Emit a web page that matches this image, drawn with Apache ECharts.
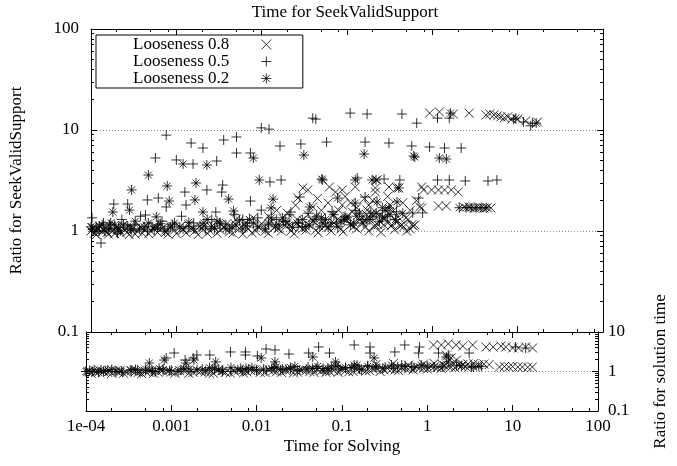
<!DOCTYPE html>
<html>
<head>
<meta charset="utf-8">
<script src="https://cdn.jsdelivr.net/npm/echarts@6.0.0/dist/echarts.min.js"></script>
<style>
html, body { margin: 0; padding: 0; background: #fff; }
#chart { width: 677px; height: 466px; }
</style>
</head>
<body>
<div id="chart"></div>
<script>
// tick labels
var xTicks = [1e-4, 1e-3, 0.01, 0.1, 1, 10, 100];
var xTickLabels = ['1e-04', '0.001', '0.01', '0.1', '1', '10', '100'];
var yTopTicks = [0.1, 1, 10, 100];
var yTopTickLabels = ['0.1', '1', '10', '100'];
var yBotTicks = [0.1, 1, 10];
var yBotTickLabels = ['0.1', '1', '10'];

// Looseness 0.8, ratio for SeekValidSupport (top panel)
var loose08Top = [
  [0.93,14.7],[1.21,15.1],[1.76,14.4],[2.7,14.7],[4.26,14.1],[4.7,14.4],[5.27,14.1],[5.8,13.8],[6.35,13.5],[7.0,13.2],[7.66,13.5],[8.5,12.8],[10.0,12.8],[12.4,12.3],[17.1,12.0],
  [0.0266,2.12],[0.0304,2.67],[0.0347,2.55],[0.0397,1.73],[0.0622,2.73],[0.0675,1.44],[0.0733,2.43],[0.088,2.55],[0.088,1.81],[0.1,1.28],[0.115,1.54],[0.125,2.73],[0.149,1.35],[0.172,1.61],[0.213,1.15],[0.215,2.67],[0.215,2.43],[0.225,3.2],[0.24,1.44],[0.27,1.15],[0.31,2.73],[0.319,1.81],[0.336,1.15],[0.385,2.67],[0.385,1.23],[0.405,2.67],[0.44,1.15],[0.49,1.35],[0.574,1.15],[0.622,1.15],[0.711,1.73],[0.75,2.73],[0.75,1.69],[0.79,2.55],[0.98,2.55],[1.18,2.55],[1.18,1.77],[1.39,2.55],[1.46,1.77],[1.67,2.55],[2.01,2.43],[2.36,1.73],[2.7,1.72],[3.09,1.69],[3.5,1.7],[4.03,1.69],[4.4,1.7],[4.86,1.69],
  [0.02,1.5],[0.025,1.8],[0.035,1.45],[0.045,2.1],[0.05,1.6],[0.06,1.9],[0.08,1.6],[0.095,2.2],[0.11,1.9],[0.13,1.7],[0.16,2.1],[0.18,1.8],[0.2,2.0],[0.26,1.7],[0.3,2.2],[0.35,1.6],[0.45,1.9],[0.55,1.6],[0.65,2.0],[0.28,1.35],[0.17,1.45],[0.012,1.4],[0.015,1.6],[0.008,1.35],[0.005,1.3],
  [1.0e-4,1.0],[1.1e-4,0.95],[1.2e-4,1.05],[1.35e-4,0.98],[1.5e-4,1.08],[1.6e-4,0.93],[1.8e-4,1.0],[2.0e-4,1.1],[2.2e-4,0.96],[2.5e-4,1.02],[2.8e-4,0.92],[3.1e-4,1.06],[3.5e-4,1.0],[4.0e-4,0.95],[4.5e-4,1.12],[5.0e-4,1.0],[6.0e-4,0.97],[7.0e-4,1.08],[8.0e-4,0.93],[9.5e-4,1.02],[1.1e-3,1.1],[1.3e-3,0.96],[1.5e-3,1.04],[1.8e-3,0.92],[2.1e-3,1.12],[2.5e-3,1.0],[3.0e-3,0.95],[3.6e-3,1.08],[4.2e-3,0.98],[5.0e-3,1.15],[6.0e-3,0.93],[7.0e-3,1.05],[8.5e-3,1.0],[0.01,1.18],[0.012,0.95],[0.014,1.08],[0.017,1.0],[0.02,1.2],[0.024,0.94],[0.028,1.1],[0.033,1.02],[0.04,1.25],[0.046,0.96],[0.055,1.12],[0.065,1.0],[0.078,1.3],[0.09,0.98],[0.11,1.15],[0.13,1.05],[0.15,1.22],[0.18,1.0],[0.21,1.1],[0.25,0.97],[0.3,1.2],[0.36,1.03],[0.42,1.12],[0.5,1.0],[0.55,1.05],
  [1.05e-4,1.08],[1.15e-4,0.92],[1.25e-4,1.12],[1.4e-4,1.03],[1.55e-4,0.97],[1.7e-4,1.1],[1.9e-4,0.94],[2.1e-4,1.03],[2.35e-4,1.13],[2.65e-4,0.97],[2.95e-4,1.08],[3.3e-4,0.93],[3.75e-4,1.1],[4.25e-4,1.02],[4.75e-4,0.94],[5.5e-4,1.1],[6.5e-4,1.03],[7.5e-4,0.97],[8.8e-4,1.12],[1.0e-3,0.94],[1.2e-3,1.03],[1.4e-3,1.15],[1.65e-3,1.0],[1.95e-3,1.06],[2.3e-3,0.95],[2.75e-3,1.1],[3.3e-3,1.02],[3.9e-3,1.18],[4.6e-3,0.95],[5.5e-3,1.06],[6.5e-3,1.2],[7.7e-3,0.96],[9.2e-3,1.1],[0.011,1.0],[0.013,1.25],[0.0155,1.05],[0.0185,1.15],[0.022,1.0],[0.026,1.3],[0.03,1.05],[0.036,1.15],[0.043,1.02],[0.05,1.35],[0.06,1.08],[0.07,1.2],[0.085,1.05],[0.1,1.4],[0.12,1.1],[0.14,1.3],[0.165,1.1],[0.195,1.5],[0.23,1.15],[0.27,1.35],[0.33,1.12],[0.39,1.4],[0.46,1.1],[0.52,1.3],[0.6,1.12]
];

// Looseness 0.5, top panel
var loose05Top = [
  [1.03e-4,1.35],[1.31e-4,0.76],[1.85e-4,1.85],[2.69e-4,1.85],[4.35e-4,1.44],[4.58e-4,2.03],[6.15e-4,2.12],[5.68e-4,5.28],[7.62e-4,8.9],[7.62e-4,1.73],[1.0e-3,5.05],[1.26e-3,2.43],[1.3e-3,1.81],[1.49e-3,7.43],[1.57e-3,4.61],[2.05e-3,6.63],[2.28e-3,2.55],[2.9e-3,1.54],[2.97e-3,4.93],[3.4e-3,2.43],[3.49e-3,2.85],[3.59e-3,7.96],[5.07e-3,8.53],[5.07e-3,5.92],[7.38e-3,5.92],[7.38e-3,1.98],[9.9e-3,10.5],[9.9e-3,1.61],[0.0122,10.2],[0.0125,3.06],[0.0164,6.95],[0.0169,3.2],[0.022,1.54],[0.028,2.17],[0.0288,7.27],[0.0397,13.1],[0.043,12.8],[0.0577,7.6],[0.109,14.7],[0.132,3.35],[0.163,7.6],[0.163,2.17],[0.172,14.4],[0.272,3.27],[0.31,7.43],[0.416,3.2],[0.44,14.4],[0.574,6.95],[0.589,1.51],[0.656,11.7],[0.692,2.12],[0.77,1.51],[0.928,6.79],[1.15,13.1],[1.15,3.2],[1.39,6.63],[1.58,13.1],[1.58,3.2],[2.18,6.63],[2.43,3.13],[4.49,3.13],[5.71,3.2],[8.99,12.8],[11.7,12.0],[14.2,11.0],[14.9,11.7],
  [1.15e-4,1.1],[1.4e-4,1.2],[1.9e-4,1.05],[2.3e-4,1.3],[3.2e-4,1.15],[3.8e-4,1.4],[5.2e-4,1.1],[6.8e-4,1.25],[9e-4,1.15],[1.15e-3,1.4],[1.6e-3,1.2],[2.6e-3,1.3],[3.8e-3,1.15],[4.8e-3,1.45],[6.8e-3,1.2],[9e-3,1.35],[0.015,1.3],[0.021,1.45],[0.027,1.2],[0.035,1.5],[0.05,1.35],[0.067,1.55],[0.095,1.4],[0.125,1.6],[0.19,1.5],[0.26,1.7],[0.38,1.55],
  [1.25e-4,1.0],[1.65e-4,1.15],[2.05e-4,0.95],[2.9e-4,1.05],[4.6e-4,1.0],[6.1e-4,1.15],[8e-4,1.05],[1.4e-3,1.1],[2.2e-3,1.05],[3.2e-3,1.2],[4.2e-3,1.05],[6e-3,1.3],[0.012,1.15],[0.018,1.25],[0.03,1.1],[0.042,1.3],[0.075,1.2],[0.15,1.3],[0.3,1.4]
];

// Looseness 0.2, top panel
var loose02Top = [
  [1.2e-3,4.61],[2.28e-3,4.5],[4.71e-4,3.58],[2.99e-4,2.55],[7.82e-4,2.79],[1.7e-3,2.99],[8.25e-4,1.98],[1.65e-3,2.03],[1.8e-4,1.54],[2.83e-4,1.61],[5.83e-4,1.38],[2.05e-3,1.54],[8.0e-3,5.28],[0.0312,5.65],[9.38e-3,3.2],[4.1e-3,2.07],[0.0136,2.07],[0.0505,3.27],[0.0366,1.73],[4.68e-3,1.58],[0.0129,1.69],[0.159,5.78],[0.605,5.53],[0.622,5.4],[1.21,5.28],[1.46,5.16],[0.0518,3.2],[0.125,3.2],[0.197,3.2],[0.219,3.2],[0.405,2.67],[0.0774,2.12],[0.225,1.94],[0.385,1.94],[0.125,1.89],[0.31,1.69],[1.63,14.7],[9.5,13.1],[16.5,11.7],
  [2.07,1.7],[2.49,1.7],[2.85,1.7],[3.26,1.7],[3.72,1.7],[4.26,1.7],
  [1.05e-4,1.05],[1.25e-4,1.12],[1.45e-4,1.0],[1.7e-4,1.2],[2.1e-4,1.08],[2.4e-4,1.15],[3.0e-4,1.02],[3.3e-4,1.25],[4.2e-4,1.1],[5.5e-4,1.04],[6.5e-4,1.18],[8.5e-4,1.1],[1.2e-3,1.05],[1.4e-3,1.22],[1.9e-3,1.12],[2.3e-3,1.3],[2.8e-3,1.06],[3.3e-3,1.18],[4.5e-3,1.1],[5.5e-3,1.28],[6.5e-3,1.12],[8e-3,1.2],[0.011,1.05],[0.013,1.35],[0.016,1.15],[0.019,1.25],[0.023,1.08],[0.03,1.3],[0.036,1.15],[0.044,1.4],[0.052,1.2],[0.06,1.1],[0.07,1.45],[0.085,1.25],[0.1,1.35],[0.12,1.2],[0.14,1.5],[0.17,1.3],[0.2,1.4],[0.24,1.25],[0.28,1.6],
  [1.0e-4,1.1],[1.15e-4,1.0],[1.35e-4,1.15],[1.6e-4,1.05],[1.9e-4,1.15],[2.2e-4,1.0],[2.7e-4,1.12],[3.7e-4,1.05],[4.7e-4,1.2],[6e-4,1.08],[7.3e-4,1.0],[9.5e-4,1.2],[1.1e-3,1.1],[1.6e-3,1.05],[2.1e-3,1.2],[2.55e-3,1.1],[3.0e-3,1.25],[3.8e-3,1.05],[5e-3,1.15],[6e-3,1.05],[7.2e-3,1.3],[9e-3,1.1],[0.012,1.2],[0.0145,1.1],[0.0175,1.35],[0.021,1.15],[0.026,1.2],[0.033,1.1],[0.04,1.25],[0.048,1.1],[0.056,1.3],[0.065,1.2],[0.078,1.1],[0.092,1.3],[0.11,1.15],[0.13,1.4],[0.155,1.2],[0.185,1.3],[0.22,1.5],[0.26,1.35],[0.32,1.45],[0.37,1.3],[0.45,1.5]
];

// ratio for solution time (bottom panel)
var loose08Bot = [
  [1.18,4.7],[1.46,4.7],[1.76,5.0],[2.18,4.7],[2.6,4.4],[3.4,4.7],[4.86,4.17],[5.9,4.17],[7.3,4.4],[8.3,4.17],[10,3.94],[11.7,3.94],[14.2,4.17],[17.1,3.94],
  [1.67,2.6],[1.9,2.2],[2.2,1.95],
  [0.25,1.5],[0.4,1.6],[0.6,1.45],[0.9,1.55],[1.2,1.6],[1.5,1.5],[2.0,1.65],[2.6,1.5],[3.0,1.55],[3.5,1.6],[4.0,1.5],[4.6,1.55],[5.3,1.5],
  [7.0,1.3],[8.0,1.33],[9.0,1.3],[10,1.33],[11.5,1.3],[13,1.3],[15,1.28],[17,1.3],
  [1.3e-4,0.95],[1.6e-4,1.0],[2e-4,0.9],[2.5e-4,1.05],[3e-4,0.95],[3.8e-4,1.0],[4.5e-4,0.88],[5.5e-4,1.05],[7e-4,0.95],[9e-4,1.02],[1.1e-3,0.9],[1.4e-3,1.05],[1.8e-3,0.95],[2.2e-3,1.0],[2.8e-3,0.9],[3.5e-3,1.08],[4.3e-3,0.95],[5.5e-3,1.02],[7e-3,0.92],[8.5e-3,1.05],[0.011,0.95],[0.014,1.1],[0.017,0.98],[0.022,1.05],[0.027,0.92],[0.034,1.1],[0.042,1.0],[0.052,1.12],[0.065,0.95],[0.08,1.05],[0.1,1.15],[0.12,0.98],[0.15,1.1],[0.19,1.02],[0.23,1.15],[0.28,1.0],[0.34,1.2],[0.42,1.1],[0.5,1.25],[0.6,1.15],[0.75,1.3],[0.9,1.2],[1.1,1.35],[1.3,1.25],[1.6,1.4],[1.9,1.3],[2.3,1.45],[2.8,1.35],
  [1.05e-4,1.0],[1.15e-4,0.9],[1.45e-4,1.05],[1.8e-4,0.95],[2.25e-4,1.05],[2.75e-4,0.9],[3.4e-4,1.05],[4.1e-4,0.95],[5e-4,1.0],[6.2e-4,0.9],[7.8e-4,1.05],[1.0e-3,0.97],[1.25e-3,1.05],[1.6e-3,0.9],[2.0e-3,1.05],[2.5e-3,0.97],[3.1e-3,0.9],[3.9e-3,1.03],[4.9e-3,0.92],[6.2e-3,1.08],[7.7e-3,0.97],[9.5e-3,1.08],[0.0125,0.95],[0.0155,1.05],[0.0195,0.95],[0.0245,1.1],[0.03,0.97],[0.038,1.05],[0.047,0.95],[0.058,1.08],[0.072,1.0],[0.09,0.95],[0.11,1.05],[0.135,1.0],[0.17,1.15],[0.21,1.05],[0.25,1.2],[0.31,1.1],[0.38,1.15],[0.46,1.05],[0.55,1.2],[0.68,1.1],[0.82,1.25],[1.0,1.15],[1.2,1.3],[1.45,1.2],[1.75,1.35],[2.1,1.25],[2.5,1.35],[3.1,1.3]
];

var loose05Bot = [
  [1e-4,1.0],[1.08e-3,2.94],[1.99e-3,2.62],[2.82e-3,2.62],[4.94e-3,3.12],[7.38e-3,3.12],[7.38e-3,2.62],[0.0102,2.47],[0.0129,3.72],[0.0164,3.5],[0.0239,2.77],[0.0407,2.94],[0.0532,4.17],[0.0714,2.94],[0.139,4.7],[0.213,4.17],[0.213,2.94],[0.416,3.12],[0.544,4.7],[0.81,4.17],[0.79,2.94],[1.35,2.94],[1.76,2.62],[3.09,2.94],[8.7e-4,2.2],[1.45e-3,1.95],[1.8e-3,2.2],[10.8,4.17],[14.2,3.94],
  [1.2e-4,1.0],[1.7e-4,1.05],[2.7e-4,0.95],[4e-4,1.1],[6e-4,1.0],[1e-3,1.08],[1.7e-3,1.0],[3e-3,1.1],[5e-3,1.0],[8e-3,1.12],[0.013,1.05],[0.02,1.15],[0.03,1.05],[0.05,1.2],[0.07,1.1],[0.11,1.25],[0.16,1.15],[0.25,1.3],[0.4,1.2],[0.65,1.35],[1.2,1.3],[2.2,1.4],[3.3,1.3],[4.3,1.35],
  [1.5e-4,1.1],[2.2e-4,1.0],[3.4e-4,1.1],[5e-4,1.05],[8e-4,1.15],[1.3e-3,1.1],[2.3e-3,1.15],[4e-3,1.1],[6.5e-3,1.2],[0.01,1.1],[0.016,1.25],[0.025,1.15],[0.04,1.3],[0.06,1.2],[0.09,1.35],[0.14,1.3],[0.2,1.4],[0.32,1.3],[0.5,1.45]
];

var loose02Bot = [
  [5.53e-4,1.64],[8.25e-4,1.95],[1.49e-3,1.64],[1.84e-3,1.95],[3.31e-3,1.75],[0.0113,2.2],[0.0164,1.75],[0.0454,2.33],[0.084,1.75],[0.139,1.46],[0.238,2.2],[1.67,2.33],[1.76,1.75],
  [1.1e-4,1.05],[1.4e-4,0.95],[1.8e-4,1.1],[2.3e-4,1.0],[3.3e-4,1.08],[4.3e-4,0.95],[5e-4,1.15],[6.5e-4,1.0],[8e-4,1.1],[1.2e-3,1.0],[1.6e-3,1.15],[2.5e-3,1.05],[3.2e-3,1.2],[4e-3,1.0],[6e-3,1.1],[7.5e-3,1.2],[0.01,1.05],[0.015,1.2],[0.019,1.1],[0.025,1.25],[0.032,1.1],[0.045,1.2],[0.06,1.05],[0.075,1.3],[0.095,1.15],[0.13,1.25],[0.17,1.1],[0.2,1.35],[0.3,1.2],[0.45,1.3],[0.7,1.25],[1.0,1.35],[1.5,1.3],[2.5,1.4],[3.5,1.3],[4,1.35],
  [1.0e-4,1.0],[1.25e-4,1.1],[1.6e-4,1.0],[2.0e-4,1.12],[2.6e-4,1.02],[3.8e-4,1.12],[5.8e-4,1.05],[7.2e-4,1.2],[9.5e-4,1.05],[1.4e-3,1.2],[2.0e-3,1.1],[2.8e-3,1.25],[3.6e-3,1.1],[5e-3,1.25],[6.8e-3,1.05],[8.8e-3,1.25],[0.012,1.15],[0.017,1.3],[0.022,1.15],[0.028,1.35],[0.038,1.15],[0.052,1.35],[0.068,1.2],[0.085,1.4],[0.11,1.25],[0.15,1.45],[0.25,1.3],[0.38,1.45],[0.55,1.35],[0.85,1.45]
];

var font = "'Liberation Serif', 'Times New Roman', serif";
var crossSym = 'path://M0,0L10,10M0,10L10,0';
var plusSym = 'path://M5,0L5,10M0,5L10,5';
var starSym = 'path://M5,0L5,10M0,5L10,5M1.5,1.5L8.5,8.5M1.5,8.5L8.5,1.5';

var decadeMinor = function (lo, hi, mults) {
  var out = [];
  for (var d = lo; d < hi; d *= 10) {
    mults.forEach(function (m) { out.push(d * m); });
  }
  return out;
};
var xMinor = decadeMinor(1e-4, 100, [2, 5, 8]);
var yTopMinor = decadeMinor(0.1, 100, [2, 3, 4, 5, 6, 7, 8, 9]);
var yBotMinor = decadeMinor(0.1, 10, [2, 3, 4, 5, 6, 7, 8, 9]);

function lookup(ticks, labels) {
  return function (v) {
    for (var i = 0; i < ticks.length; i++) {
      if (Math.abs(Math.log10(v) - Math.log10(ticks[i])) < 0.01) return labels[i];
    }
    return '';
  };
}

function axis(o) {
  var a = {
    type: 'log', logBase: 10, gridIndex: o.grid, position: o.pos,
    min: o.min, max: o.max, silent: true,
    axisLine: { show: !!o.line, lineStyle: { color: '#000', width: 1 } },
    axisTick: { show: true, inside: true, length: o.len, customValues: o.ticks, lineStyle: { color: '#000', width: 1 } },
    axisLabel: { show: false },
    splitLine: { show: false }
  };
  if (o.labels) {
    a.axisLabel = { show: true, customValues: o.ticks, formatter: lookup(o.ticks, o.labels),
      color: '#000', fontFamily: font, fontSize: 17, margin: o.margin };
  }
  if (o.name) {
    a.name = o.name; a.nameLocation = 'middle'; a.nameGap = o.nameGap;
    if (o.nameRotate != null) a.nameRotate = o.nameRotate;
    a.nameTextStyle = { color: '#000', fontFamily: font, fontSize: 17 };
  }
  if (o.split) {
    a.axisTick = { show: false, customValues: o.ticks };
    a.splitLine = { show: true, lineStyle: { color: '#888', type: [1, 2], width: 1 } };
  }
  return a;
}

var xAxes = [
  axis({ grid: 0, pos: 'bottom', min: 1e-4, max: 100, line: true, len: 6, ticks: xTicks }),
  axis({ grid: 0, pos: 'bottom', min: 1e-4, max: 100, len: 3, ticks: xMinor }),
  axis({ grid: 0, pos: 'top', min: 1e-4, max: 100, line: true, len: 6, ticks: xTicks }),
  axis({ grid: 0, pos: 'top', min: 1e-4, max: 100, len: 3, ticks: xMinor }),
  axis({ grid: 1, pos: 'bottom', min: 1e-4, max: 100, line: true, len: 6, ticks: xTicks,
         labels: xTickLabels, margin: 7, name: 'Time for Solving', nameGap: 27 }),
  axis({ grid: 1, pos: 'bottom', min: 1e-4, max: 100, len: 3, ticks: xMinor }),
  axis({ grid: 1, pos: 'top', min: 1e-4, max: 100, line: true, len: 6, ticks: xTicks }),
  axis({ grid: 1, pos: 'top', min: 1e-4, max: 100, len: 3, ticks: xMinor })
];

var yAxes = [
  axis({ grid: 0, pos: 'left', min: 0.1, max: 100, line: true, len: 6, ticks: yTopTicks,
         labels: yTopTickLabels, margin: 12, name: 'Ratio for SeekValidSupport', nameGap: 66 }),
  axis({ grid: 0, pos: 'left', min: 0.1, max: 100, len: 3, ticks: yTopMinor }),
  axis({ grid: 0, pos: 'right', min: 0.1, max: 100, line: true, len: 6, ticks: yTopTicks }),
  axis({ grid: 0, pos: 'right', min: 0.1, max: 100, len: 3, ticks: yTopMinor }),
  axis({ grid: 1, pos: 'left', min: 0.1, max: 10, line: true, len: 6, ticks: yBotTicks }),
  axis({ grid: 1, pos: 'left', min: 0.1, max: 10, len: 3, ticks: yBotMinor }),
  axis({ grid: 1, pos: 'right', min: 0.1, max: 10, line: true, len: 6, ticks: yBotTicks,
         labels: yBotTickLabels, margin: 10, name: 'Ratio for solution time', nameGap: 54, nameRotate: 90 }),
  axis({ grid: 1, pos: 'right', min: 0.1, max: 10, len: 3, ticks: yBotMinor }),
  axis({ grid: 0, pos: 'left', min: 0.1, max: 100, split: true, ticks: [1, 10] }),
  axis({ grid: 1, pos: 'left', min: 0.1, max: 10, split: true, ticks: [1] })
];

var markStyle = { color: 'rgba(0,0,0,0)', borderColor: '#000', borderWidth: 1 };

function scatter(name, data, sym, size, xi, yi) {
  return {
    type: 'scatter', name: name, data: data, xAxisIndex: xi, yAxisIndex: yi,
    symbol: sym, symbolSize: size, symbolKeepAspect: true, silent: true,
    itemStyle: markStyle, animation: false
  };
}

var chart = echarts.init(document.getElementById('chart'));
chart.setOption({
  animation: false,
  backgroundColor: '#fff',
  textStyle: { fontFamily: font, color: '#000' },
  title: {
    text: 'Time for SeekValidSupport', left: 345, textAlign: 'center', top: 4, padding: 0,
    textStyle: { fontFamily: font, fontSize: 17, fontWeight: 'normal', color: '#000' }
  },
  legend: {
    data: ['Looseness 0.8', 'Looseness 0.5', 'Looseness 0.2'],
    orient: 'vertical', left: 96, top: 35, align: 'right',
    itemWidth: 64, itemHeight: 10, itemGap: 0,
    padding: [1, 31, 1, 37],
    borderColor: '#000', borderWidth: 1, backgroundColor: '#fff',
    selectedMode: false,
    itemStyle: markStyle,
    textStyle: { fontFamily: font, fontSize: 17, color: '#000', lineHeight: 17 }
  },
  grid: [
    { left: 86, top: 29, width: 517, height: 303 },
    { left: 86, top: 332, width: 517, height: 79 }
  ],
  xAxis: xAxes,
  yAxis: yAxes,
  series: [
    scatter('Looseness 0.8', loose08Top, crossSym, 9, 0, 0),
    scatter('Looseness 0.5', loose05Top, plusSym, 10, 0, 0),
    scatter('Looseness 0.2', loose02Top, starSym, 10, 0, 0),
    scatter('Looseness 0.8', loose08Bot, crossSym, 9, 4, 6),
    scatter('Looseness 0.5', loose05Bot, plusSym, 10, 4, 6),
    scatter('Looseness 0.2', loose02Bot, starSym, 10, 4, 6)
  ]
});
</script>
</body>
</html>
